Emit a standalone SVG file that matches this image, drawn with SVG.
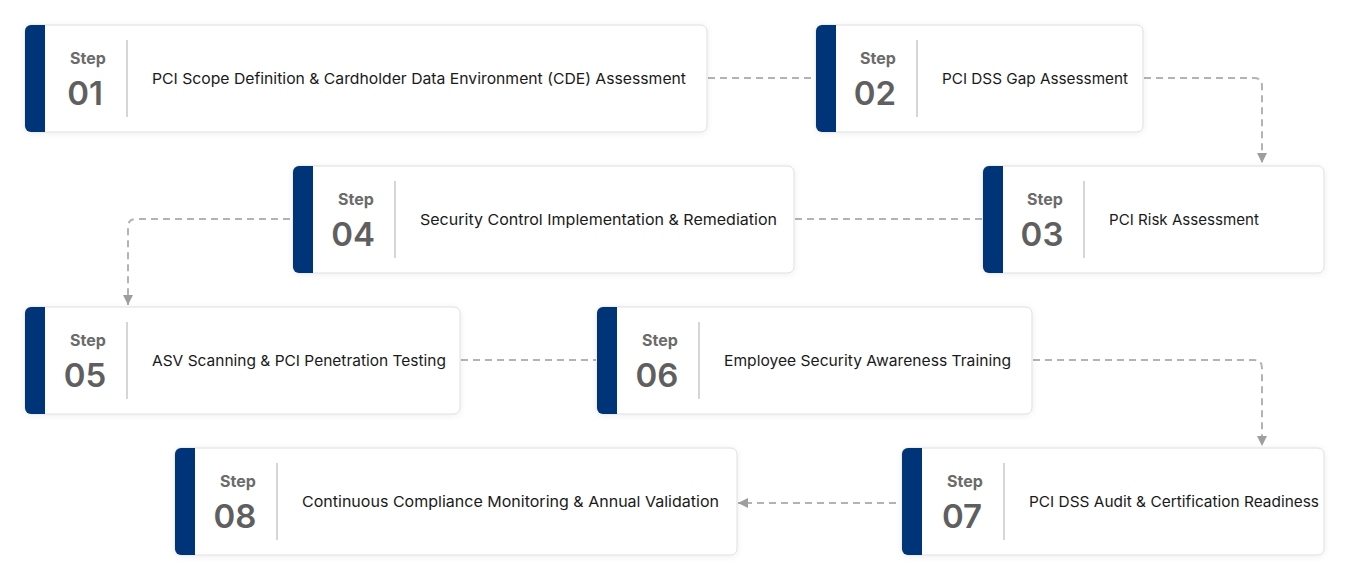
<svg xmlns="http://www.w3.org/2000/svg" width="1350" height="582" viewBox="0 0 1350 582">
<defs>
<filter id="sh" x="-5%" y="-20%" width="110%" height="140%">
<feDropShadow dx="0" dy="1" stdDeviation="3" flood-color="#000" flood-opacity="0.07"/>
</filter>
<marker id="arr" viewBox="0 0 10 10" refX="10" refY="5" markerWidth="10" markerHeight="10" markerUnits="userSpaceOnUse" orient="auto">
<path d="M0,0 L10,5 L0,10 Z" fill="#9e9e9e"/>
</marker>
<style>
.box{fill:#fff;stroke:#dedede;stroke-width:1}
.bar{fill:#003478}
.div{stroke:#d6d6d6;stroke-width:2}
.step{font-family:Inter,"Liberation Sans",sans-serif;font-weight:700;font-size:16px;fill:#6b6b6b;text-anchor:middle}
.num{font-family:Inter,"Liberation Sans",sans-serif;font-weight:600;font-size:33px;fill:#5f5f5f;text-anchor:middle}
.desc{font-family:Inter,"Liberation Sans",sans-serif;font-weight:400;font-size:15px;fill:#1a1a1a}
.con{fill:none;stroke:#b3b3b3;stroke-width:2;stroke-dasharray:7 5}
</style>
</defs>
<rect width="1350" height="582" fill="#fff"/>

<g id="connectors">
<path class="con" d="M708,78 H815"/>
<path class="con" d="M1144,78 H1254 Q1262,78 1262,86 V163" marker-end="url(#arr)"/>
<path class="con" d="M795,219 H982"/>
<path class="con" d="M290,219 H136 Q128,219 128,227 V305" marker-end="url(#arr)"/>
<path class="con" d="M461,360 H596"/>
<path class="con" d="M1033,360 H1254 Q1262,360 1262,368 V446" marker-end="url(#arr)"/>
<path class="con" d="M896,503 H738" marker-end="url(#arr)"/>
</g>

<g id="step01">
<rect class="box" x="25" y="25" width="682" height="107" rx="6" filter="url(#sh)"/>
<path class="bar" d="M31,25 H45 V132 H31 A6,6 0 0 1 25,126 V31 A6,6 0 0 1 31,25 Z"/>
<line class="div" x1="127" y1="40" x2="127" y2="117"/>
<text class="step" x="88" y="64">Step</text>
<text class="num" x="85" y="105">01</text>
<text class="desc" x="152" y="84" textLength="534" lengthAdjust="spacingAndGlyphs">PCI Scope Definition &amp; Cardholder Data Environment (CDE) Assessment</text>
</g>

<g id="step02">
<rect class="box" x="816" y="25" width="327" height="107" rx="6" filter="url(#sh)"/>
<path class="bar" d="M822,25 H836 V132 H822 A6,6 0 0 1 816,126 V31 A6,6 0 0 1 822,25 Z"/>
<line class="div" x1="917" y1="40" x2="917" y2="117"/>
<text class="step" x="878" y="64">Step</text>
<text class="num" x="875" y="105">02</text>
<text class="desc" x="942" y="84" textLength="186" lengthAdjust="spacingAndGlyphs">PCI DSS Gap Assessment</text>
</g>

<g id="step03">
<rect class="box" x="983" y="166" width="341" height="107" rx="6" filter="url(#sh)"/>
<path class="bar" d="M989,166 H1003 V273 H989 A6,6 0 0 1 983,267 V172 A6,6 0 0 1 989,166 Z"/>
<line class="div" x1="1084" y1="181" x2="1084" y2="258"/>
<text class="step" x="1045" y="205">Step</text>
<text class="num" x="1042" y="246">03</text>
<text class="desc" x="1109" y="225" textLength="150" lengthAdjust="spacingAndGlyphs">PCI Risk Assessment</text>
</g>

<g id="step04">
<rect class="box" x="293" y="166" width="501" height="107" rx="6" filter="url(#sh)"/>
<path class="bar" d="M299,166 H313 V273 H299 A6,6 0 0 1 293,267 V172 A6,6 0 0 1 299,166 Z"/>
<line class="div" x1="395" y1="181" x2="395" y2="258"/>
<text class="step" x="356" y="205">Step</text>
<text class="num" x="353" y="246">04</text>
<text class="desc" x="420" y="225" textLength="357" lengthAdjust="spacingAndGlyphs">Security Control Implementation &amp; Remediation</text>
</g>

<g id="step05">
<rect class="box" x="25" y="307" width="435" height="107" rx="6" filter="url(#sh)"/>
<path class="bar" d="M31,307 H45 V414 H31 A6,6 0 0 1 25,408 V313 A6,6 0 0 1 31,307 Z"/>
<line class="div" x1="127" y1="322" x2="127" y2="399"/>
<text class="step" x="88" y="346">Step</text>
<text class="num" x="85" y="387">05</text>
<text class="desc" x="152" y="366" textLength="294" lengthAdjust="spacingAndGlyphs">ASV Scanning &amp; PCI Penetration Testing</text>
</g>

<g id="step06">
<rect class="box" x="597" y="307" width="435" height="107" rx="6" filter="url(#sh)"/>
<path class="bar" d="M603,307 H617 V414 H603 A6,6 0 0 1 597,408 V313 A6,6 0 0 1 603,307 Z"/>
<line class="div" x1="699" y1="322" x2="699" y2="399"/>
<text class="step" x="660" y="346">Step</text>
<text class="num" x="657" y="387">06</text>
<text class="desc" x="724" y="366" textLength="287" lengthAdjust="spacingAndGlyphs">Employee Security Awareness Training</text>
</g>

<g id="step07">
<rect class="box" x="902" y="448" width="422" height="107" rx="6" filter="url(#sh)"/>
<path class="bar" d="M908,448 H922 V555 H908 A6,6 0 0 1 902,549 V454 A6,6 0 0 1 908,448 Z"/>
<line class="div" x1="1004" y1="463" x2="1004" y2="540"/>
<text class="step" x="965" y="487">Step</text>
<text class="num" x="962" y="528">07</text>
<text class="desc" x="1029" y="507" textLength="290" lengthAdjust="spacingAndGlyphs">PCI DSS Audit &amp; Certification Readiness</text>
</g>

<g id="step08">
<rect class="box" x="175" y="448" width="562" height="107" rx="6" filter="url(#sh)"/>
<path class="bar" d="M181,448 H195 V555 H181 A6,6 0 0 1 175,549 V454 A6,6 0 0 1 181,448 Z"/>
<line class="div" x1="277" y1="463" x2="277" y2="540"/>
<text class="step" x="238" y="487">Step</text>
<text class="num" x="235" y="528">08</text>
<text class="desc" x="302" y="507" textLength="417" lengthAdjust="spacingAndGlyphs">Continuous Compliance Monitoring &amp; Annual Validation</text>
</g>
</svg>
